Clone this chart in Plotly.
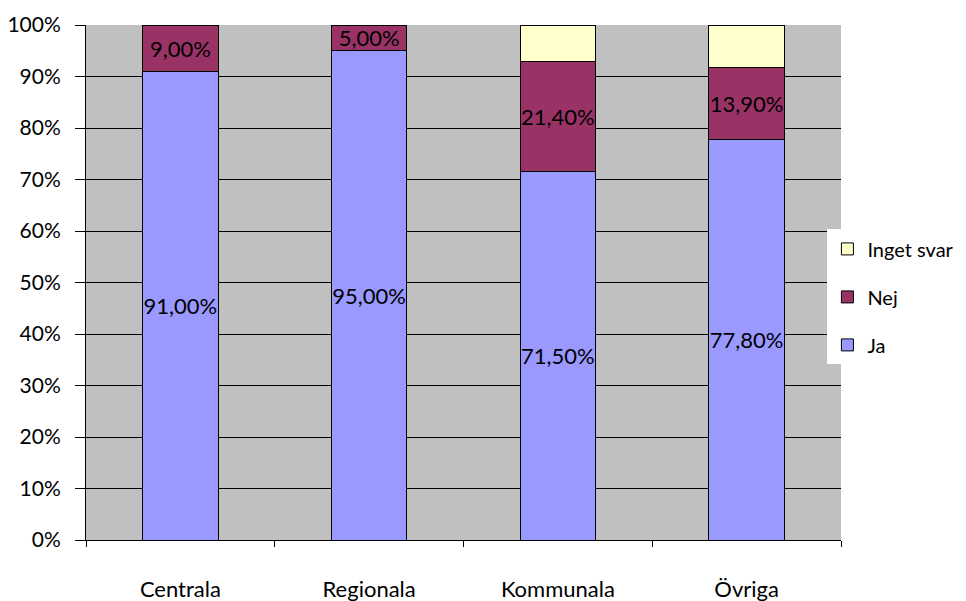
import plotly.graph_objects as go

categories = ["Centrala", "Regionala", "Kommunala", "Övriga"]
ja = [0.91, 0.95, 0.715, 0.778]
nej = [0.09, 0.05, 0.214, 0.139]
inget = [0.0, 0.0, 0.071, 0.083]
ja_labels = ["91,00%", "95,00%", "71,50%", "77,80%"]
nej_labels = ["9,00%", "5,00%", "21,40%", "13,90%"]

FONT = "Lato, 'DejaVu Sans', sans-serif"
FS = 21
LS = 22
line = dict(color="black", width=1)

common = dict(textposition="inside", insidetextanchor="middle", textangle=0,
              constraintext="none", cliponaxis=False)

fig = go.Figure()
fig.add_trace(go.Bar(x=categories, y=ja, name="Ja", marker=dict(color="#9999FF", line=line),
                     text=ja_labels, textfont=dict(color="black", size=LS, family=FONT),
                     legendgroup="c", legendrank=3, **common))
fig.add_trace(go.Bar(x=categories, y=nej, name="Nej", marker=dict(color="#993366", line=line),
                     text=nej_labels, textfont=dict(color="black", size=LS, family=FONT),
                     legendgroup="b", legendrank=2, **common))
fig.add_trace(go.Bar(x=categories, y=inget, name="Inget svar", marker=dict(color="#FFFFCC", line=line),
                     legendgroup="a", legendrank=1))

# page has an 8px body margin, so the figure is 958x593 placed at (8, 8)
fig.update_layout(
    barmode="stack",
    bargap=0.6,
    width=958, height=593,
    margin=dict(l=78, r=125, t=17, b=61, autoexpand=False),
    paper_bgcolor="white",
    plot_bgcolor="#C0C0C0",
    font=dict(family=FONT, size=FS, color="black"),
    legend=dict(x=0.982, xanchor="left", y=0.472, yanchor="middle", bgcolor="white",
                traceorder="grouped", tracegroupgap=19, font=dict(size=20),
                itemwidth=30),
    xaxis=dict(showgrid=False, ticks="outside", tickson="boundaries", ticklen=6,
               tickcolor="black", showline=True, linecolor="black", linewidth=1,
               ticklabelstandoff=30, tickfont=dict(size=22), automargin=False),
    yaxis=dict(range=[0, 1], dtick=0.1, tickformat=".0%", showgrid=True, gridcolor="black",
               gridwidth=1, ticks="outside", ticklen=10, tickcolor="black",
               showline=True, linecolor="black", linewidth=1, zeroline=False,
               tickfont=dict(size=FS), ticklabelstandoff=10, automargin=False),
)
fig.write_html("out.html")
